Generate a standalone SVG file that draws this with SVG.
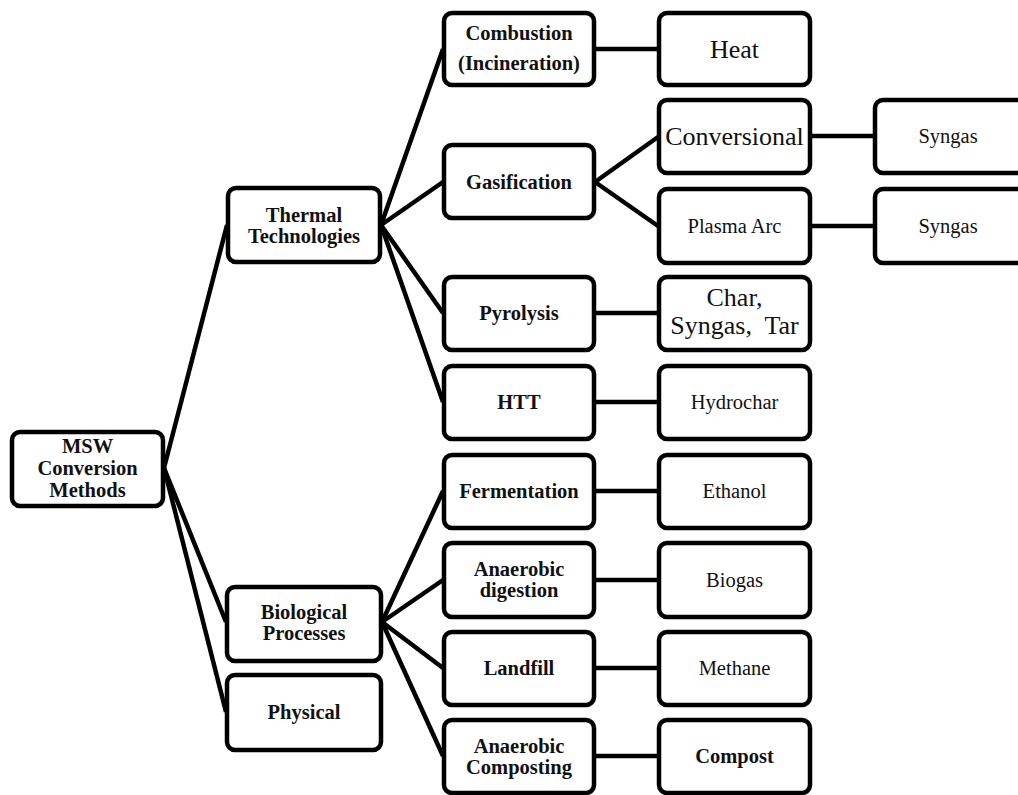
<svg xmlns="http://www.w3.org/2000/svg" width="1018" height="795" viewBox="0 0 1018 795">
<style>
.box{fill:#fff;stroke:#000;stroke-width:4.5}
.c{stroke:#000;stroke-width:4.5;fill:none}
.b{font-family:"Liberation Serif","Times New Roman",serif;font-weight:bold;font-size:20.5px;text-anchor:middle;fill:#111}
.n{font-family:"Liberation Serif","Times New Roman",serif;font-size:20.5px;text-anchor:middle;fill:#111}
.big{font-family:"Liberation Serif","Times New Roman","DejaVu Serif",serif;font-size:26px;text-anchor:middle;fill:#111}
</style>
<rect width="1018" height="795" fill="#fff"/>
<g id="connectors" class="c">
<line x1="164" y1="468" x2="227" y2="225"/>
<line x1="164" y1="468" x2="226" y2="622"/>
<line x1="164" y1="468" x2="226" y2="712"/>
<line x1="381" y1="225" x2="443" y2="49"/>
<line x1="381" y1="225" x2="443" y2="182"/>
<line x1="381" y1="225" x2="443" y2="313"/>
<line x1="381" y1="225" x2="443" y2="402"/>
<line x1="382" y1="622" x2="443" y2="491"/>
<line x1="382" y1="622" x2="443" y2="580"/>
<line x1="382" y1="622" x2="443" y2="668"/>
<line x1="382" y1="622" x2="443" y2="756"/>
<line x1="595" y1="182" x2="658" y2="137"/>
<line x1="595" y1="182" x2="658" y2="226"/>
<line x1="594" y1="49" x2="659" y2="49"/>
<line x1="594" y1="313" x2="659" y2="313"/>
<line x1="594" y1="402" x2="659" y2="402"/>
<line x1="594" y1="491" x2="659" y2="491"/>
<line x1="594" y1="580" x2="659" y2="580"/>
<line x1="594" y1="668" x2="659" y2="668"/>
<line x1="594" y1="756" x2="659" y2="756"/>
<line x1="810" y1="136" x2="875" y2="136"/>
<line x1="810" y1="226" x2="875" y2="226"/>
</g>
<g id="msw"><rect class="box" x="12" y="432" width="151" height="74" rx="8"/>
<text class="b" x="87.5" y="453">MSW</text><text class="b" x="87.5" y="475">Conversion</text><text class="b" x="87.5" y="497">Methods</text></g>
<g id="thermal"><rect class="box" x="228" y="188" width="152" height="74" rx="8"/>
<text class="b" x="304" y="222">Thermal</text><text class="b" x="304" y="243">Technologies</text></g>
<g id="biological"><rect class="box" x="227" y="587" width="154" height="74" rx="8"/>
<text class="b" x="304" y="619">Biological</text><text class="b" x="304" y="640">Processes</text></g>
<g id="physical"><rect class="box" x="227" y="675" width="154" height="75" rx="8"/>
<text class="b" x="304" y="719">Physical</text></g>
<g id="combustion"><rect class="box" x="444" y="13" width="150" height="72" rx="8"/>
<text class="b" x="519" y="40">Combustion</text><text class="b" x="519" y="70">(Incineration)</text></g>
<g id="gasification"><rect class="box" x="444" y="145" width="150" height="73" rx="8"/>
<text class="b" x="519" y="189">Gasification</text></g>
<g id="pyrolysis"><rect class="box" x="444" y="277" width="150" height="73" rx="8"/>
<text class="b" x="519" y="320">Pyrolysis</text></g>
<g id="htt"><rect class="box" x="444" y="366" width="150" height="73" rx="8"/>
<text class="b" x="519" y="409">HTT</text></g>
<g id="fermentation"><rect class="box" x="444" y="455" width="150" height="73" rx="8"/>
<text class="b" x="519" y="498">Fermentation</text></g>
<g id="anaerobic-digestion"><rect class="box" x="444" y="543" width="150" height="74" rx="8"/>
<text class="b" x="519" y="576">Anaerobic</text><text class="b" x="519" y="597">digestion</text></g>
<g id="landfill"><rect class="box" x="444" y="632" width="150" height="73" rx="8"/>
<text class="b" x="519" y="675">Landfill</text></g>
<g id="anaerobic-composting"><rect class="box" x="444" y="720" width="150" height="73" rx="8"/>
<text class="b" x="519" y="753">Anaerobic</text><text class="b" x="519" y="774">Composting</text></g>
<g id="heat"><rect class="box" x="659" y="13" width="151" height="72" rx="8"/>
<text class="big" x="734.5" y="58">Heat</text></g>
<g id="conversional"><rect class="box" x="659" y="100" width="151" height="73" rx="8"/>
<text class="big" x="734.5" y="145">Conversional</text></g>
<g id="plasma-arc"><rect class="box" x="659" y="189" width="151" height="74" rx="8"/>
<text class="n" x="734.5" y="233">Plasma Arc</text></g>
<g id="char"><rect class="box" x="659" y="277" width="151" height="73" rx="8"/>
<text class="big" x="734.5" y="306" font-size="25">Char,</text><text class="big" x="734.5" y="334" font-size="25" xml:space="preserve">Syngas,  Tar</text></g>
<g id="hydrochar"><rect class="box" x="659" y="366" width="151" height="73" rx="8"/>
<text class="n" x="734.5" y="409">Hydrochar</text></g>
<g id="ethanol"><rect class="box" x="659" y="455" width="151" height="73" rx="8"/>
<text class="n" x="734.5" y="498">Ethanol</text></g>
<g id="biogas"><rect class="box" x="659" y="543" width="151" height="74" rx="8"/>
<text class="n" x="734.5" y="587">Biogas</text></g>
<g id="methane"><rect class="box" x="659" y="632" width="151" height="73" rx="8"/>
<text class="n" x="734.5" y="675">Methane</text></g>
<g id="compost"><rect class="box" x="659" y="720" width="151" height="73" rx="8"/>
<text class="b" x="734.5" y="763">Compost</text></g>
<g id="syngas-1"><rect class="box" x="875" y="100" width="153" height="73" rx="8"/>
<text class="n" x="948" y="143">Syngas</text></g>
<g id="syngas-2"><rect class="box" x="875" y="189" width="153" height="74" rx="8"/>
<text class="n" x="948" y="233">Syngas</text></g>
</svg>
